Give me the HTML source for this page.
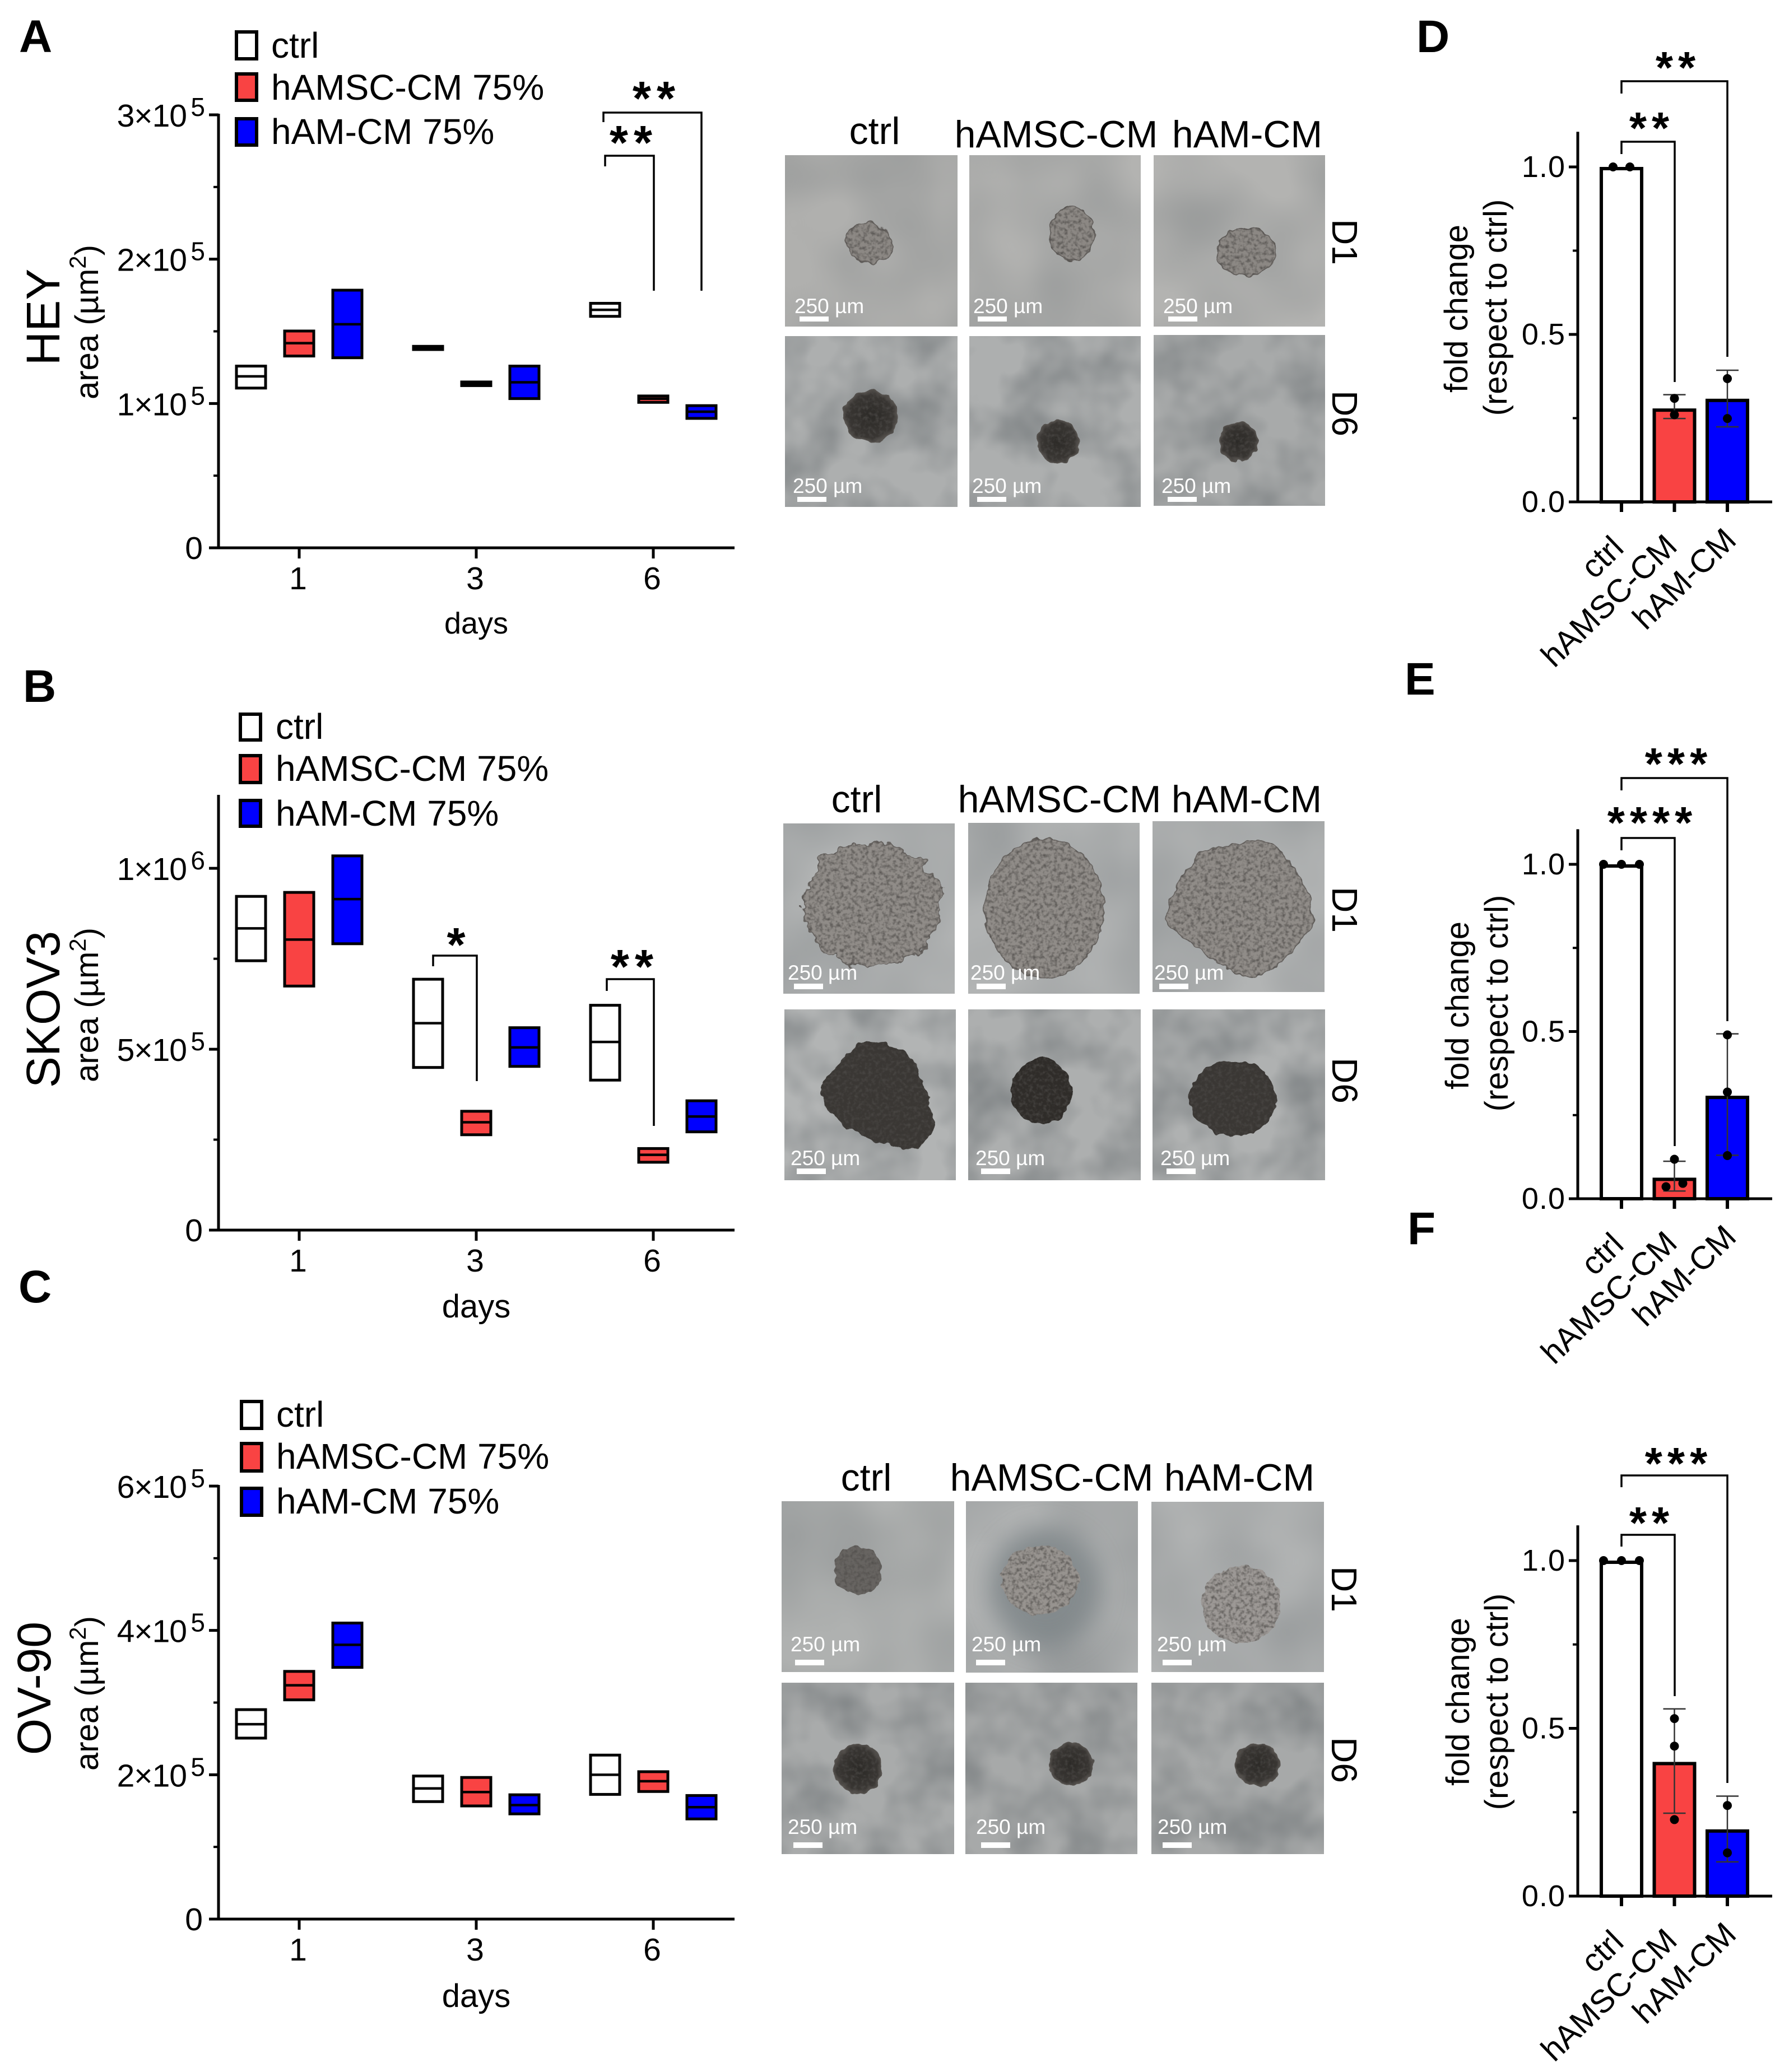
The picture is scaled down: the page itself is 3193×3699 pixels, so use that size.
<!DOCTYPE html>
<html lang="en">
<head>
<meta charset="utf-8">
<title>Spheroid area and fold change</title>
<style>
html,body{margin:0;padding:0;background:#fff}
svg{display:block}
text{font-family:"Liberation Sans",sans-serif;fill:#000}
.pl{font-size:82px;font-weight:bold}
.lg{font-size:64px}
.ct{font-size:68px}
.ax{font-size:57px}
.ex{font-size:46px}
.yt{font-size:58px}
.cl{font-size:84px}
.dy{font-size:54px}
.fl{font-size:58px}
.xl{font-size:58px}
.st{font-weight:bold;text-anchor:middle}
.sb{font-size:37px;fill:#fff}
.dd{font-size:64px}
.mid{text-anchor:middle}
.br{fill:none;stroke:#000;stroke-width:3.5}
</style>
</head>
<body>
<svg xmlns="http://www.w3.org/2000/svg" width="3193" height="3699" viewBox="0 0 3193 3699">
<defs>
<filter id="mot1" x="0" y="0" width="100%" height="100%" color-interpolation-filters="sRGB">
<feTurbulence type="fractalNoise" baseFrequency=".006" numOctaves="2" seed="4" result="n"/>
<feColorMatrix in="n" type="matrix" values="0 0 0 0 .44 0 0 0 0 .46 0 0 0 0 .47 .7 0 0 0 -.22" result="c"/>
<feMerge><feMergeNode in="SourceGraphic"/><feMergeNode in="c"/></feMerge>
</filter>
<filter id="mot2" x="0" y="0" width="100%" height="100%" color-interpolation-filters="sRGB">
<feTurbulence type="fractalNoise" baseFrequency=".01" numOctaves="3" seed="11" result="n"/>
<feColorMatrix in="n" type="matrix" values="0 0 0 0 .42 0 0 0 0 .44 0 0 0 0 .45 1.2 0 0 0 -.42" result="c"/>
<feMerge><feMergeNode in="SourceGraphic"/><feMergeNode in="c"/></feMerge>
</filter>
<filter id="sph" x="-25%" y="-25%" width="150%" height="150%" color-interpolation-filters="sRGB">
<feTurbulence type="fractalNoise" baseFrequency=".06" numOctaves="2" seed="3" result="n"/>
<feDisplacementMap in="SourceGraphic" in2="n" scale="13" xChannelSelector="R" yChannelSelector="G" result="d"/>
<feTurbulence type="fractalNoise" baseFrequency=".16" numOctaves="2" seed="5" result="g"/>
<feColorMatrix in="g" type="matrix" values="0 0 0 0 .3 0 0 0 0 .29 0 0 0 0 .28 1.8 0 0 0 -.75" result="gd"/>
<feComposite in="gd" in2="d" operator="in" result="gc"/>
<feMerge><feMergeNode in="d"/><feMergeNode in="gc"/></feMerge>
</filter>
<filter id="sphBig" x="-25%" y="-25%" width="150%" height="150%" color-interpolation-filters="sRGB">
<feTurbulence type="fractalNoise" baseFrequency=".035" numOctaves="3" seed="8" result="n"/>
<feDisplacementMap in="SourceGraphic" in2="n" scale="34" xChannelSelector="R" yChannelSelector="G" result="d"/>
<feTurbulence type="fractalNoise" baseFrequency=".16" numOctaves="2" seed="5" result="g"/>
<feColorMatrix in="g" type="matrix" values="0 0 0 0 .3 0 0 0 0 .29 0 0 0 0 .28 1.8 0 0 0 -.75" result="gd"/>
<feComposite in="gd" in2="d" operator="in" result="gc"/>
<feMerge><feMergeNode in="d"/><feMergeNode in="gc"/></feMerge>
</filter>
<filter id="halo" x="-40%" y="-40%" width="180%" height="180%"><feGaussianBlur stdDeviation="22"/></filter>
<radialGradient id="core"><stop offset="0" stop-color="#2c2a27"/><stop offset=".82" stop-color="#393633"/><stop offset="1" stop-color="#5a5652"/></radialGradient>
</defs>

<!-- Panel letters -->
<text class="pl" x="34" y="93">A</text>
<text class="pl" x="41" y="1253">B</text>
<text class="pl" x="33" y="2325">C</text>
<text class="pl" x="2528" y="93">D</text>
<text class="pl" x="2507" y="1240">E</text>
<text class="pl" x="2512" y="2221">F</text>

<!-- Panel A labels -->
<text class="cl mid" transform="translate(106 566) rotate(-90)">HEY</text>
<text class="yt mid" transform="translate(175 575) rotate(-90)">area (µm<tspan font-size="42" dy="-22">2</tspan><tspan dy="22">)</tspan></text>
<text class="dy mid" x="850" y="1131">days</text>
<g>
<rect x="422" y="57" width="36" height="48" fill="#fff" stroke="#000" stroke-width="6"/>
<text class="lg" x="484" y="103">ctrl</text>
<rect x="422" y="132" width="36" height="47" fill="#f94343" stroke="#000" stroke-width="6"/>
<text class="lg" x="484" y="178">hAMSC-CM 75%</text>
<rect x="422" y="212" width="36" height="47" fill="#0000ff" stroke="#000" stroke-width="6"/>
<text class="lg" x="484" y="257">hAM-CM 75%</text>
</g>
<path class="br" d="M1077 218V201H1252V519"/>
<path class="br" d="M1080 297V278H1167V519"/>
<text class="st" font-size="85" letter-spacing="10" x="1172" y="205">**</text>
<text class="st" font-size="85" letter-spacing="10" x="1131" y="284">**</text>

<!-- Panel B labels -->
<text class="cl mid" transform="translate(106 1802) rotate(-90)">SKOV3</text>
<text class="yt mid" transform="translate(175 1794) rotate(-90)">area (µm<tspan font-size="42" dy="-22">2</tspan><tspan dy="22">)</tspan></text>
<text class="xl mid" x="850" y="2352">days</text>
<g>
<rect x="429" y="1275" width="36" height="46" fill="#fff" stroke="#000" stroke-width="6"/>
<text class="lg" x="492" y="1319">ctrl</text>
<rect x="429" y="1349" width="36" height="48" fill="#f94343" stroke="#000" stroke-width="6"/>
<text class="lg" x="492" y="1394">hAMSC-CM 75%</text>
<rect x="429" y="1429" width="36" height="46" fill="#0000ff" stroke="#000" stroke-width="6"/>
<text class="lg" x="492" y="1474">hAM-CM 75%</text>
</g>
<path class="br" d="M773 1725V1706H851V1930"/>
<path class="br" d="M1083 1769V1748H1167V2010"/>
<text class="st" font-size="85" x="814" y="1716">*</text>
<text class="st" font-size="85" letter-spacing="10" x="1133" y="1755">**</text>

<!-- Panel C labels -->
<text class="cl mid" transform="translate(90 3014) rotate(-90)">OV-90</text>
<text class="yt mid" transform="translate(175 3023) rotate(-90)">area (µm<tspan font-size="42" dy="-22">2</tspan><tspan dy="22">)</tspan></text>
<text class="xl mid" x="850" y="3583">days</text>
<g>
<rect x="431" y="2502" width="36" height="48" fill="#fff" stroke="#000" stroke-width="6"/>
<text class="lg" x="493" y="2547">ctrl</text>
<rect x="431" y="2577" width="36" height="49" fill="#f94343" stroke="#000" stroke-width="6"/>
<text class="lg" x="493" y="2622">hAMSC-CM 75%</text>
<rect x="431" y="2657" width="36" height="48" fill="#0000ff" stroke="#000" stroke-width="6"/>
<text class="lg" x="493" y="2702">hAM-CM 75%</text>
</g>

<!-- Micrographs HEY -->
<g>
<text class="ct mid" x="1561" y="257">ctrl</text>
<text class="ct mid" x="1885" y="263">hAMSC-CM</text>
<text class="ct mid" x="2226" y="263">hAM-CM</text>
<text class="dd mid" transform="translate(2378 432) rotate(90)">D1</text>
<text class="dd mid" transform="translate(2378 738) rotate(90)">D6</text>
<rect x="1401" y="277" width="308" height="306" fill="#b0b0ae" filter="url(#mot1)"/>
<rect x="1730" y="277" width="306" height="306" fill="#b3b3b1" filter="url(#mot1)"/>
<rect x="2059" y="277" width="306" height="306" fill="#b3b3b1" filter="url(#mot1)"/>
<rect x="1401" y="600" width="308" height="305" fill="#adafaf" filter="url(#mot2)"/>
<rect x="1730" y="600" width="306" height="305" fill="#adafaf" filter="url(#mot2)"/>
<rect x="2059" y="598" width="306" height="305" fill="#a8aaaa" filter="url(#mot2)"/>
<ellipse cx="1552" cy="434" rx="42" ry="35" transform="rotate(20 1552 434)" fill="#8c8884" stroke="#66625f" stroke-width="2" filter="url(#sph)"/>
<ellipse cx="1913" cy="417" rx="40" ry="48" fill="#8c8884" stroke="#66625f" stroke-width="2" filter="url(#sph)"/>
<ellipse cx="2224" cy="450" rx="53" ry="42" fill="#8c8884" stroke="#66625f" stroke-width="2" filter="url(#sph)"/>
<ellipse cx="1554" cy="743" rx="49" ry="46" fill="url(#core)" filter="url(#sph)"/>
<ellipse cx="1888" cy="788" rx="38" ry="38" fill="url(#core)" filter="url(#sph)"/>
<ellipse cx="2210" cy="788" rx="35" ry="35" fill="url(#core)" filter="url(#sph)"/>
<rect x="1427" y="565" width="52" height="9" fill="#fff"/><text class="sb" x="1418" y="559">250 µm</text>
<rect x="1745" y="565" width="52" height="9" fill="#fff"/><text class="sb" x="1737" y="559">250 µm</text>
<rect x="2085" y="565" width="52" height="9" fill="#fff"/><text class="sb" x="2076" y="559">250 µm</text>
<rect x="1423" y="887" width="52" height="9" fill="#fff"/><text class="sb" x="1415" y="880">250 µm</text>
<rect x="1744" y="887" width="52" height="9" fill="#fff"/><text class="sb" x="1735" y="880">250 µm</text>
<rect x="2084" y="887" width="52" height="9" fill="#fff"/><text class="sb" x="2073" y="880">250 µm</text>
</g>

<!-- Micrographs SKOV3 -->
<g>
<text class="ct mid" x="1529" y="1450">ctrl</text>
<text class="ct mid" x="1891" y="1450">hAMSC-CM</text>
<text class="ct mid" x="2225" y="1450">hAM-CM</text>
<text class="dd mid" transform="translate(2378 1624) rotate(90)">D1</text>
<text class="dd mid" transform="translate(2378 1929) rotate(90)">D6</text>
<rect x="1398" y="1470" width="306" height="304" fill="#b2b4b4" filter="url(#mot1)"/>
<rect x="1728" y="1469" width="306" height="305" fill="#b2b4b4" filter="url(#mot1)"/>
<rect x="2057" y="1466" width="307" height="305" fill="#b2b4b4" filter="url(#mot1)"/>
<rect x="1400" y="1802" width="306" height="305" fill="#b2b4b4" filter="url(#mot2)"/>
<rect x="1728" y="1802" width="308" height="305" fill="#adafaf" filter="url(#mot2)"/>
<rect x="2057" y="1802" width="308" height="305" fill="#afb1b1" filter="url(#mot2)"/>
<ellipse cx="1557" cy="1616" rx="125" ry="110" fill="#908c88" stroke="#6a6663" stroke-width="2" filter="url(#sphBig)"/>
<ellipse cx="1864" cy="1621" rx="106" ry="123" fill="#908c88" stroke="#6a6663" stroke-width="2" filter="url(#sph)"/>
<path d="M2140 1525C2190 1505 2250 1495 2270 1505C2310 1540 2345 1600 2345 1640C2320 1700 2260 1745 2225 1745C2180 1730 2120 1680 2080 1645C2085 1600 2110 1560 2140 1525Z" fill="#908c88" stroke="#6a6663" stroke-width="2" filter="url(#sph)"/>
<path d="M1550 1857C1590 1862 1620 1875 1631 1892L1659 1962L1669 2007C1662 2038 1640 2052 1620 2052L1560 2037L1511 2012L1476 1982L1462 1942C1475 1920 1495 1905 1508 1887C1520 1872 1535 1860 1550 1857Z" fill="#3a3734" filter="url(#sph)"/>
<ellipse cx="1859" cy="1948" rx="55" ry="58" fill="#2f2c29" filter="url(#sph)"/>
<ellipse cx="2201" cy="1961" rx="77" ry="68" fill="#3a3734" filter="url(#sph)"/>
<rect x="1417" y="1756" width="52" height="10" fill="#fff"/><text class="sb" x="1406" y="1749">250 µm</text>
<rect x="1743" y="1756" width="52" height="10" fill="#fff"/><text class="sb" x="1732" y="1749">250 µm</text>
<rect x="2069" y="1756" width="52" height="10" fill="#fff"/><text class="sb" x="2060" y="1749">250 µm</text>
<rect x="1422" y="2086" width="52" height="10" fill="#fff"/><text class="sb" x="1411" y="2080">250 µm</text>
<rect x="1751" y="2086" width="52" height="10" fill="#fff"/><text class="sb" x="1741" y="2080">250 µm</text>
<rect x="2082" y="2086" width="52" height="10" fill="#fff"/><text class="sb" x="2071" y="2080">250 µm</text>
</g>

<!-- Micrographs OV-90 -->
<g>
<text class="ct mid" x="1546" y="2661">ctrl</text>
<text class="ct mid" x="1877" y="2661">hAMSC-CM</text>
<text class="ct mid" x="2212" y="2661">hAM-CM</text>
<text class="dd mid" transform="translate(2377 2837) rotate(90)">D1</text>
<text class="dd mid" transform="translate(2377 3142) rotate(90)">D6</text>
<rect x="1395" y="2680" width="308" height="305" fill="#afb1b0" filter="url(#mot1)"/>
<rect x="1724" y="2680" width="307" height="306" fill="#b0b2b2" filter="url(#mot1)"/>
<rect x="2055" y="2681" width="308" height="304" fill="#b2b4b4" filter="url(#mot1)"/>
<rect x="1395" y="3004" width="308" height="306" fill="#a9abab" filter="url(#mot2)"/>
<rect x="1723" y="3004" width="307" height="306" fill="#a7a9a9" filter="url(#mot2)"/>
<rect x="2055" y="3004" width="308" height="306" fill="#a7a9a9" filter="url(#mot2)"/>
<ellipse cx="1866" cy="2834" rx="100" ry="108" fill="#7b8386" opacity=".8" filter="url(#halo)"/>
<ellipse cx="1531" cy="2804" rx="44" ry="43" fill="#676461" filter="url(#sph)"/>
<ellipse cx="1855" cy="2821" rx="69" ry="62" fill="#97938f" filter="url(#sph)"/>
<ellipse cx="2215" cy="2864" rx="71" ry="69" fill="#9c9895" filter="url(#sph)"/>
<ellipse cx="1532" cy="3157" rx="43" ry="45" fill="url(#core)" filter="url(#sph)"/>
<ellipse cx="1911" cy="3150" rx="40" ry="38" fill="url(#core)" filter="url(#sph)"/>
<ellipse cx="2245" cy="3150" rx="40" ry="38" fill="url(#core)" filter="url(#sph)"/>
<rect x="1419" y="2963" width="52" height="10" fill="#fff"/><text class="sb" x="1411" y="2948">250 µm</text>
<rect x="1742" y="2963" width="52" height="10" fill="#fff"/><text class="sb" x="1734" y="2948">250 µm</text>
<rect x="2075" y="2963" width="52" height="10" fill="#fff"/><text class="sb" x="2065" y="2948">250 µm</text>
<rect x="1416" y="3289" width="52" height="10" fill="#fff"/><text class="sb" x="1406" y="3274">250 µm</text>
<rect x="1751" y="3289" width="52" height="10" fill="#fff"/><text class="sb" x="1742" y="3274">250 µm</text>
<rect x="2075" y="3289" width="52" height="10" fill="#fff"/><text class="sb" x="2066" y="3274">250 µm</text>
</g>

<!-- Panel D-F labels -->
<text class="fl mid" transform="translate(2619 551) rotate(-90)">fold change</text>
<text class="fl mid" transform="translate(2689 549) rotate(-90)">(respect to ctrl)</text>
<path class="br" d="M2894 167V145H3083V637"/>
<path class="br" d="M2894 275V253H2989V682"/>
<text class="st" font-size="80" letter-spacing="9" x="2995" y="148">**</text>
<text class="st" font-size="80" letter-spacing="9" x="2948" y="256">**</text>

<text class="fl mid" transform="translate(2621 1795) rotate(-90)">fold change</text>
<text class="fl mid" transform="translate(2691 1791) rotate(-90)">(respect to ctrl)</text>
<path class="br" d="M2894 1411V1389H3083V1823"/>
<path class="br" d="M2894 1518V1496H2989V2046"/>
<text class="st" font-size="80" letter-spacing="9" x="2996" y="1391">***</text>
<text class="st" font-size="80" letter-spacing="9" x="2949" y="1496">****</text>

<text class="fl mid" transform="translate(2622 3038) rotate(-90)">fold change</text>
<text class="fl mid" transform="translate(2691 3038) rotate(-90)">(respect to ctrl)</text>
<path class="br" d="M2894 2655V2634H3083V3183"/>
<path class="br" d="M2894 2761V2740H2989V3028"/>
<text class="st" font-size="80" letter-spacing="9" x="2996" y="2640">***</text>
<text class="st" font-size="80" letter-spacing="9" x="2948" y="2746">**</text>

<g id="charts"></g>
</svg>

<script>
// Shared categories
const days = ['1', '3', '6'];
const foldCategories = ['ctrl', 'hAMSC-CM', 'hAM-CM'];

// HEY area, per day: max / mean / min
const heyCtrlMax = [126300, 140000, 169800];
const heyCtrlMean = [118800, 138600, 164900];
const heyCtrlMin = [110300, 137000, 160000];
const heyRedMax = [150600, 115300, 105600];
const heyRedMean = [141800, 113800, 103300];
const heyRedMin = [132500, 112000, 100400];
const heyBlueMax = [178900, 126300, 98900];
const heyBlueMean = [154900, 114700, 94300];
const heyBlueMin = [131300, 103000, 89300];
const heyTicks = [0, 100000, 200000, 300000];
const heyMinorTicks = [50000, 150000, 250000];
const heyTickLabels = ['0', '1×10', '2×10', '3×10'];
const heyTickExponents = ['', '5', '5', '5'];

// SKOV3 area
const skovCtrlMax = [924000, 695000, 623000];
const skovCtrlMean = [834000, 572000, 520000];
const skovCtrlMin = [743000, 448000, 413000];
const skovRedMax = [935000, 330000, 227000];
const skovRedMean = [803000, 298000, 208000];
const skovRedMin = [673000, 262000, 186000];
const skovBlueMax = [1036000, 561000, 359000];
const skovBlueMean = [915000, 505000, 314000];
const skovBlueMin = [790000, 451000, 270000];
const skovTicks = [0, 500000, 1000000];
const skovMinorTicks = [250000, 750000];
const skovTickLabels = ['0', '5×10', '1×10'];
const skovTickExponents = ['', '5', '6'];

// OV-90 area
const ovCtrlMax = [291000, 199000, 228000];
const ovCtrlMean = [270000, 181000, 200000];
const ovCtrlMin = [250000, 162000, 172000];
const ovRedMax = [344000, 197000, 205000];
const ovRedMean = [324000, 176000, 191000];
const ovRedMin = [303000, 156000, 176000];
const ovBlueMax = [411000, 173000, 172000];
const ovBlueMean = [380000, 158000, 155000];
const ovBlueMin = [348000, 145000, 138000];
const ovTicks = [0, 200000, 400000, 600000];
const ovMinorTicks = [100000, 300000, 500000];
const ovTickLabels = ['0', '2×10', '4×10', '6×10'];
const ovTickExponents = ['', '5', '5', '5'];

// Fold change bars
const foldTicks = [0, 0.5, 1];
const foldMinorTicks = [0.25, 0.75];
const foldTickLabels = ['0.0', '0.5', '1.0'];

const dMeans = [1, 0.279, 0.308];
const dErrHigh = [1, 0.32, 0.393];
const dErrLow = [1, 0.249, 0.224];
const dCtrlDots = [1, 1];
const dRedDots = [0.309, 0.26];
const dBlueDots = [0.368, 0.249];

const eMeans = [1, 0.063, 0.308];
const eErrHigh = [1, 0.112, 0.493];
const eErrLow = [1, 0.023, 0.13];
const eCtrlDots = [1, 1, 1];
const eRedDots = [0.118, 0.036, 0.046];
const eBlueDots = [0.49, 0.319, 0.129];

const fMeans = [1, 0.40, 0.199];
const fErrHigh = [1, 0.558, 0.298];
const fErrLow = [1, 0.247, 0.102];
const fCtrlDots = [1, 1, 1];
const fRedDots = [0.529, 0.447, 0.228];
const fBlueDots = [0.27, 0.129];

const NS = 'http://www.w3.org/2000/svg';
const root = document.getElementById('charts');
const COLORS = ['#ffffff', '#f94343', '#0000ff'];

function mark(tag, name, attrs, parent) {
  const el = document.createElementNS(NS, tag);
  
  
  for (const k in attrs) el.setAttribute(k, attrs[k]);
  (parent || root).appendChild(el);
  return el;
}
function label(name, txt, x, y, cls, anchor, parent) {
  const el = mark('text', name, {x: x, y: y, class: cls, 'text-anchor': anchor}, parent);
  el.textContent = txt;
  return el;
}

function drawAreaChart(id, base, axisTop, axisMax, ticks, minor, tickLabels, tickExps, series) {
  const g = mark('g', id + '-floating-bar-chart', {});
  const yScale = v => base - (v / axisMax) * (base - axisTop);
  const dayX = i => 534 + i * 316;
  const groupX = (d, s) => dayX(d) + (s - 1) * 86;
  const BOX = 52, SW = 5;
  series.forEach((s, si) => {
    days.forEach((day, d) => {
      const top = yScale(s.max[d]) + 1;
      const bot = yScale(s.min[d]) - 1;
      const x = groupX(d, si);
      const h = Math.max(bot - top, 0);
      mark('rect', id + '-bar-' + s.key + '-day' + day, {x: x - BOX / 2, y: top, width: BOX, height: h, fill: COLORS[si], stroke: '#000', 'stroke-width': SW}, g);
      mark('line', id + '-mean-' + s.key + '-day' + day, {x1: x - BOX / 2, x2: x + BOX / 2, y1: yScale(s.mean[d]), y2: yScale(s.mean[d]), stroke: '#000', 'stroke-width': 4.5}, g);
    });
  });
  mark('line', id + '-y-axis', {x1: 390, x2: 390, y1: yScale(axisMax) - 2, y2: base + 2.5, stroke: '#000', 'stroke-width': 5}, g);
  mark('line', id + '-x-axis', {x1: 373, x2: 1311, y1: base, y2: base, stroke: '#000', 'stroke-width': 5}, g);
  ticks.forEach((t, i) => {
    const y = yScale(t);
    mark('line', id + '-y-tick', {x1: 373, x2: 390, y1: y, y2: y, stroke: '#000', 'stroke-width': 5}, g);
    if (tickExps[i]) {
      const m = label(id + '-y-tick-label', tickLabels[i], 333, y + 21, 'ax', 'end', g);
      m.setAttribute('letter-spacing', '-1');
      label(id + '-y-tick-exponent', tickExps[i], 366, y + 2, 'ex', 'end', g);
    } else {
      label(id + '-y-tick-label', tickLabels[i], 362, y + 20, 'ax', 'end', g);
    }
  });
  minor.forEach(t => {
    const y = yScale(t);
    mark('line', id + '-y-minor-tick', {x1: 381, x2: 390, y1: y, y2: y, stroke: '#000', 'stroke-width': 4}, g);
  });
  days.forEach((day, d) => {
    const x = dayX(d);
    mark('line', id + '-x-tick', {x1: x, x2: x, y1: base, y2: base + 19, stroke: '#000', 'stroke-width': 5}, g);
    label(id + '-x-tick-label', day, x - 2, base + 74, 'ax', 'middle', g);
  });
}

function spreadDots(values) {
  // Near-equal values sit side by side, as in a swarm plot.
  const offsets = values.map(() => 0);
  const used = values.map(() => false);
  values.forEach((v, i) => {
    if (used[i]) return;
    const grp = [];
    values.forEach((w, j) => { if (!used[j] && Math.abs(w - v) < 0.03) grp.push(j); });
    grp.forEach((j, k) => {
      used[j] = true;
      if (grp.length === 2) offsets[j] = k === 0 ? -15 : 15;
      if (grp.length >= 3) offsets[j] = (k - (grp.length - 1) / 2) * 32;
    });
  });
  return offsets;
}

function drawFoldChart(id, base, unitPx, means, errHigh, errLow, dots) {
  const g = mark('g', id + '-bar-chart', {});
  const yScale = v => base - v * unitPx;
  const barX = i => 2894 + i * 94.5;
  const AX = 2816, HALF = 36, SW = 6;
  foldCategories.forEach((cat, i) => {
    const x = barX(i);
    const top = yScale(means[i]) + SW / 2;
    mark('rect', id + '-bar-' + cat, {x: x - HALF, y: top, width: HALF * 2, height: Math.max(base - top, 0), fill: COLORS[i], stroke: '#000', 'stroke-width': SW}, g);
  });
  foldCategories.forEach((cat, i) => {
    if (i === 0) return;
    const x = barX(i);
    const yh = yScale(errHigh[i]);
    const yl = yScale(errLow[i]);
    mark('line', id + '-error-bar-' + cat, {x1: x, x2: x, y1: yh, y2: yl, stroke: '#333', 'stroke-width': 2.5}, g);
    mark('line', id + '-error-cap-high-' + cat, {x1: x - 20, x2: x + 20, y1: yh, y2: yh, stroke: '#333', 'stroke-width': 2.5}, g);
    mark('line', id + '-error-cap-low-' + cat, {x1: x - 20, x2: x + 20, y1: yl, y2: yl, stroke: '#333', 'stroke-width': 2.5}, g);
  });
  dots.forEach((vals, i) => {
    const off = spreadDots(vals);
    vals.forEach((v, j) => {
      mark('circle', id + '-point-' + foldCategories[i], {cx: barX(i) + off[j], cy: yScale(v), r: 8, fill: '#000'}, g);
    });
  });
  mark('line', id + '-y-axis', {x1: AX, x2: AX, y1: yScale(1.105), y2: base + 2.5, stroke: '#000', 'stroke-width': 5}, g);
  mark('line', id + '-x-axis', {x1: 2800, x2: 3163, y1: base, y2: base, stroke: '#000', 'stroke-width': 5}, g);
  foldTicks.forEach((t, i) => {
    const y = yScale(t);
    mark('line', id + '-y-tick', {x1: 2800, x2: AX, y1: y, y2: y, stroke: '#000', 'stroke-width': 5}, g);
    const el = label(id + '-y-tick-label', foldTickLabels[i], 2794, y + 18, 'dy', 'end', g);
    el.setAttribute('letter-spacing', '1');
  });
  foldMinorTicks.forEach(t => {
    const y = yScale(t);
    mark('line', id + '-y-minor-tick', {x1: 2807, x2: AX, y1: y, y2: y, stroke: '#000', 'stroke-width': 4}, g);
  });
  const labelDx = [7, 8, 19];
  const labelDy = [0, -3, -14];
  foldCategories.forEach((cat, i) => {
    const x = barX(i);
    mark('line', id + '-x-tick', {x1: x, x2: x, y1: base, y2: base + 18, stroke: '#000', 'stroke-width': 6}, g);
    const ax = x + labelDx[i], ay = base + 86 + labelDy[i];
    const el = label(id + '-x-tick-label', cat, ax, ay, 'fl', 'end', g);
    el.setAttribute('transform', 'rotate(-44 ' + ax + ' ' + ay + ')');
  });
}

drawAreaChart('hey', 978, 205, 300000, heyTicks, heyMinorTicks, heyTickLabels, heyTickExponents, [
  {key: 'ctrl', max: heyCtrlMax, mean: heyCtrlMean, min: heyCtrlMin},
  {key: 'hamsc', max: heyRedMax, mean: heyRedMean, min: heyRedMin},
  {key: 'ham', max: heyBlueMax, mean: heyBlueMean, min: heyBlueMin}
]);
drawAreaChart('skov3', 2196, 1421, 1200000, skovTicks, skovMinorTicks, skovTickLabels, skovTickExponents, [
  {key: 'ctrl', max: skovCtrlMax, mean: skovCtrlMean, min: skovCtrlMin},
  {key: 'hamsc', max: skovRedMax, mean: skovRedMean, min: skovRedMin},
  {key: 'ham', max: skovBlueMax, mean: skovBlueMean, min: skovBlueMin}
]);
drawAreaChart('ov90', 3426, 2653, 600000, ovTicks, ovMinorTicks, ovTickLabels, ovTickExponents, [
  {key: 'ctrl', max: ovCtrlMax, mean: ovCtrlMean, min: ovCtrlMin},
  {key: 'hamsc', max: ovRedMax, mean: ovRedMean, min: ovRedMin},
  {key: 'ham', max: ovBlueMax, mean: ovBlueMean, min: ovBlueMin}
]);
drawFoldChart('d', 896, 598, dMeans, dErrHigh, dErrLow, [dCtrlDots, dRedDots, dBlueDots]);
drawFoldChart('e', 2140, 597, eMeans, eErrHigh, eErrLow, [eCtrlDots, eRedDots, eBlueDots]);
drawFoldChart('f', 3385, 599, fMeans, fErrHigh, fErrLow, [fCtrlDots, fRedDots, fBlueDots]);
</script>
</body>
</html>
